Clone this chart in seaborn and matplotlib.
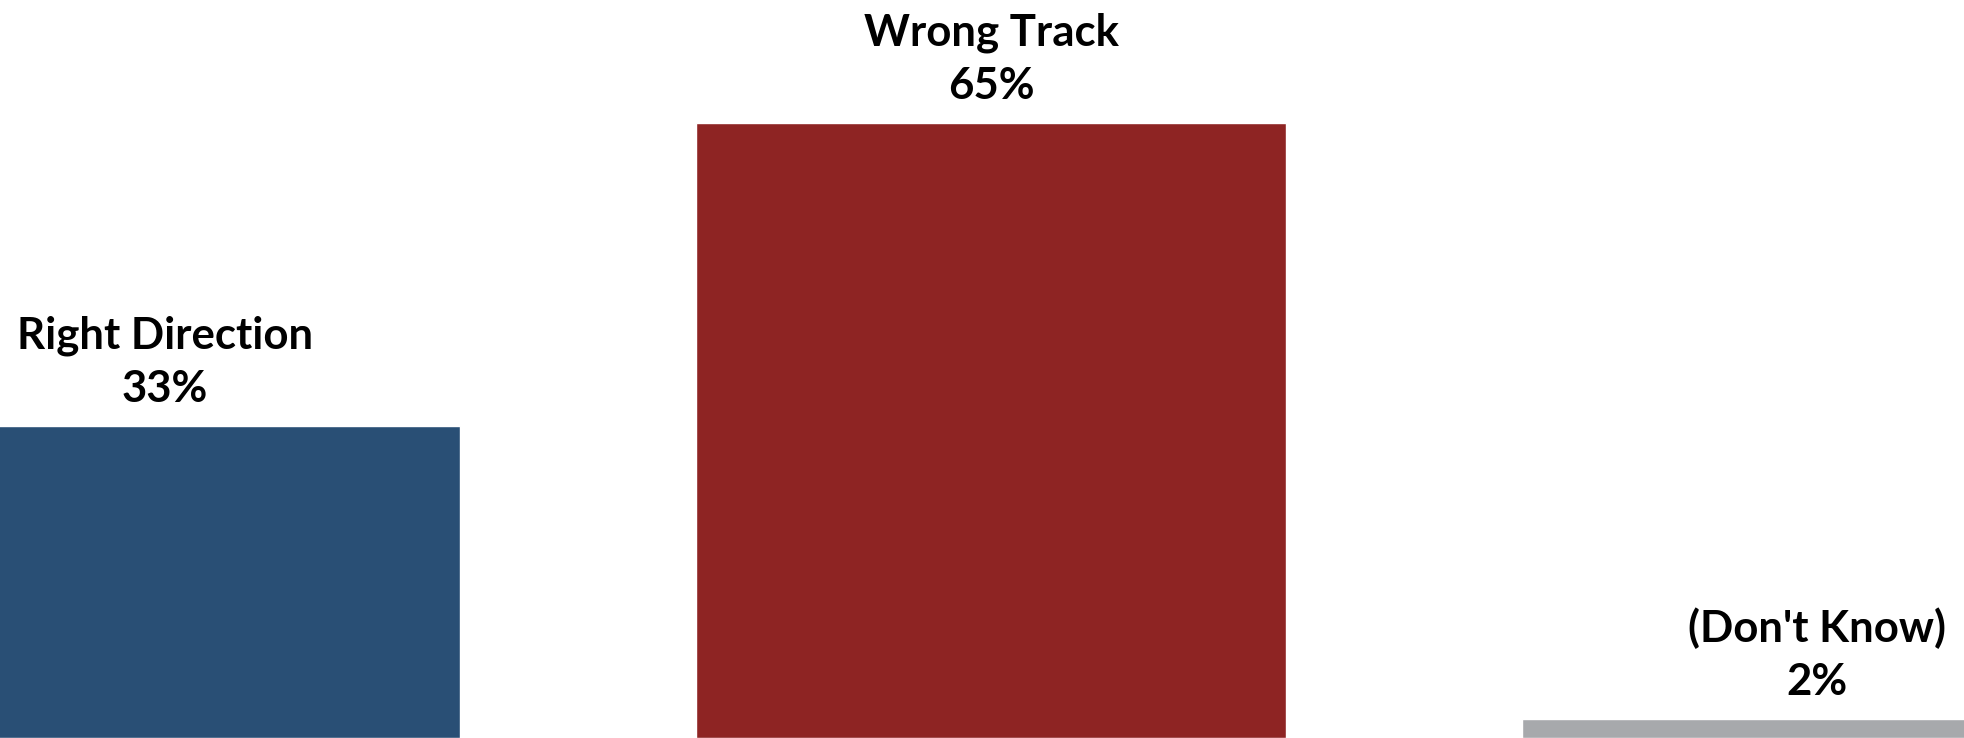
import matplotlib
matplotlib.use('Agg')
import matplotlib.pyplot as plt
import seaborn as sns
import pandas as pd

# Datos
categories = ['Right Direction', 'Wrong Track', "(Don't Know)"]
values = [33, 65, 2]
value_labels = ['33%', '65%', '2%']
bar_colors = ['#294F75', '#8E2423', '#A7A9AC']

df = pd.DataFrame({'category': categories, 'value': values})

sns.set_theme(style='white')
plt.rcParams['font.family'] = ['Lato', 'DejaVu Sans']

fig = plt.figure(figsize=(19.65, 7.38), dpi=100)
ax = fig.add_axes([0, 0, 1, 1])

sns.barplot(data=df, x='category', y='value', hue='category',
            palette=bar_colors, width=0.714, legend=False, ax=ax,
            saturation=1)

# Etiquetas encima de cada barra
for i, (name, val, lab) in enumerate(zip(categories, values, value_labels)):
    ax.annotate(f'{name}\n{lab}', xy=(i, val), xytext=(0, 12),
                textcoords='offset points', ha='center', va='bottom',
                fontsize=31.5, fontweight='bold', color='black',
                linespacing=1.4)

ax.set_xlim(-0.1998, 2.179)
ax.set_ylim(0, 78)
ax.axis('off')

plt.savefig('out.png', dpi=100)
